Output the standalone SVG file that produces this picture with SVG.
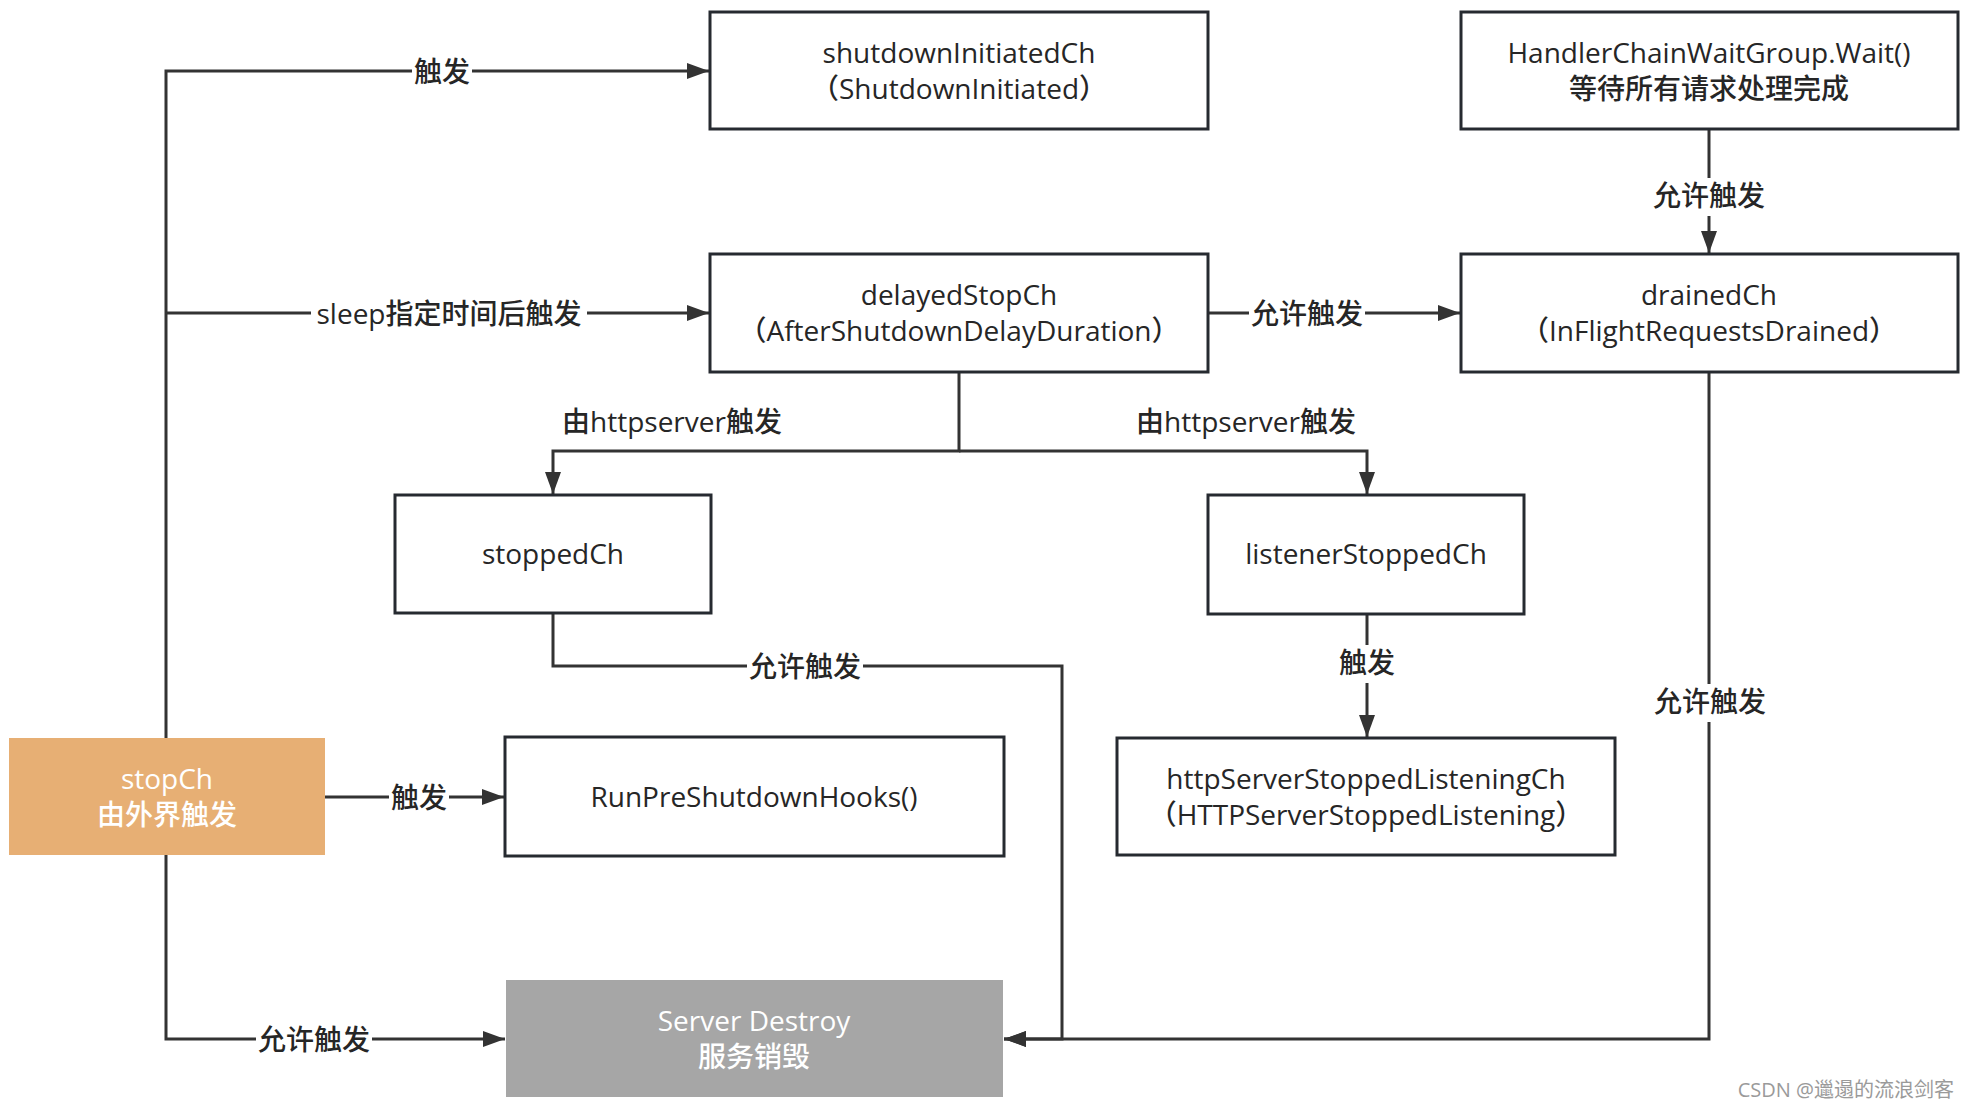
<svg xmlns="http://www.w3.org/2000/svg" width="1968" height="1108" viewBox="0 0 1968 1108">
<style>
  text { font-family: "Open Sans", "Noto Sans CJK SC", sans-serif; font-size: 28px; font-weight: 500; text-anchor: middle; fill: #262626; }
  .box { fill: #ffffff; stroke: #262a30; stroke-width: 3; }
  .line { fill: none; stroke: #333333; stroke-width: 3; }
  .arrow { marker-end: url(#ah); }
  .lbl { fill: #ffffff; }
  .wt { fill: #ffffff; }
  .wm { font-size: 20px; font-weight: 400; fill: #9a9a9a; text-anchor: end; }
</style>
<defs>
  <marker id="ah" markerUnits="userSpaceOnUse" markerWidth="22" markerHeight="16" refX="22" refY="8" orient="auto">
    <path d="M0,0 L22,8 L0,16 z" fill="#333333"/>
  </marker>
</defs>
<rect width="1968" height="1108" fill="#ffffff"/>

<g id="connectors">
  <path class="line arrow" d="M166,738 V71 H709"/>
  <path class="line arrow" d="M166,313 H709"/>
  <path class="line arrow" d="M325,797 H504"/>
  <path class="line arrow" d="M166,855 V1039 H505"/>
  <path class="line arrow" d="M1208,313 H1460"/>
  <path class="line arrow" d="M1709,129 V253"/>
  <path class="line arrow" d="M959,372 V451 H553 V494"/>
  <path class="line arrow" d="M959,451 H1367 V494"/>
  <path class="line arrow" d="M553,613 V666 H1062 V1039 H1004"/>
  <path class="line arrow" d="M1367,614 V737"/>
  <path class="line arrow" d="M1709,372 V1039 H1004"/>
  <g id="labels">
    <rect class="lbl" x="412" y="55" width="60" height="34"/>
    <text x="442" y="82">触发</text>
    <rect class="lbl" x="311" y="297" width="276" height="34"/>
    <text x="449" y="324">sleep指定时间后触发</text>
    <rect class="lbl" x="1249" y="297" width="116" height="34"/>
    <text x="1307" y="324">允许触发</text>
    <rect class="lbl" x="1651" y="178" width="116" height="38"/>
    <text x="1709" y="206">允许触发</text>
    <text x="672" y="432">由httpserver触发</text>
    <text x="1246" y="432">由httpserver触发</text>
    <rect class="lbl" x="747" y="650" width="116" height="34"/>
    <text x="805" y="677">允许触发</text>
    <rect class="lbl" x="1337" y="645" width="60" height="38"/>
    <text x="1367" y="673">触发</text>
    <rect class="lbl" x="1651" y="684" width="116" height="38"/>
    <text x="1710" y="712">允许触发</text>
    <rect class="lbl" x="389" y="781" width="60" height="34"/>
    <text x="419" y="808">触发</text>
    <rect class="lbl" x="256" y="1023" width="116" height="34"/>
    <text x="314" y="1050">允许触发</text>
  </g>
</g>

<g id="shutdownInitiatedCh">
  <rect class="box" x="710" y="12" width="498" height="117"/>
  <text x="959" y="63">shutdownInitiatedCh</text>
  <text x="959" y="99">（ShutdownInitiated）</text>
</g>

<g id="handlerChainWait">
  <rect class="box" x="1461" y="12" width="497" height="117"/>
  <text x="1709" y="63">HandlerChainWaitGroup.Wait()</text>
  <text x="1709" y="99">等待所有请求处理完成</text>
</g>

<g id="delayedStopCh">
  <rect class="box" x="710" y="254" width="498" height="118"/>
  <text x="959" y="305">delayedStopCh</text>
  <text x="959" y="341">（AfterShutdownDelayDuration）</text>
</g>

<g id="drainedCh">
  <rect class="box" x="1461" y="254" width="497" height="118"/>
  <text x="1709" y="305">drainedCh</text>
  <text x="1709" y="341">（InFlightRequestsDrained）</text>
</g>

<g id="stoppedCh">
  <rect class="box" x="395" y="495" width="316" height="118"/>
  <text x="553" y="564">stoppedCh</text>
</g>

<g id="listenerStoppedCh">
  <rect class="box" x="1208" y="495" width="316" height="119"/>
  <text x="1366" y="564">listenerStoppedCh</text>
</g>

<g id="stopCh">
  <rect x="9" y="738" width="316" height="117" fill="#e7af74"/>
  <text class="wt" x="167" y="789">stopCh</text>
  <text class="wt" x="167" y="825">由外界触发</text>
</g>

<g id="runPreShutdownHooks">
  <rect class="box" x="505" y="737" width="499" height="119"/>
  <text x="754" y="807">RunPreShutdownHooks()</text>
</g>

<g id="httpServerStoppedListeningCh">
  <rect class="box" x="1117" y="738" width="498" height="117"/>
  <text x="1366" y="789">httpServerStoppedListeningCh</text>
  <text x="1366" y="825">（HTTPServerStoppedListening）</text>
</g>

<g id="serverDestroy">
  <rect x="506" y="980" width="497" height="117" fill="#a6a6a6"/>
  <text class="wt" x="754" y="1031">Server Destroy</text>
  <text class="wt" x="754" y="1067">服务销毁</text>
</g>

<text class="wm" x="1954" y="1097">CSDN @邋遢的流浪剑客</text>
</svg>
